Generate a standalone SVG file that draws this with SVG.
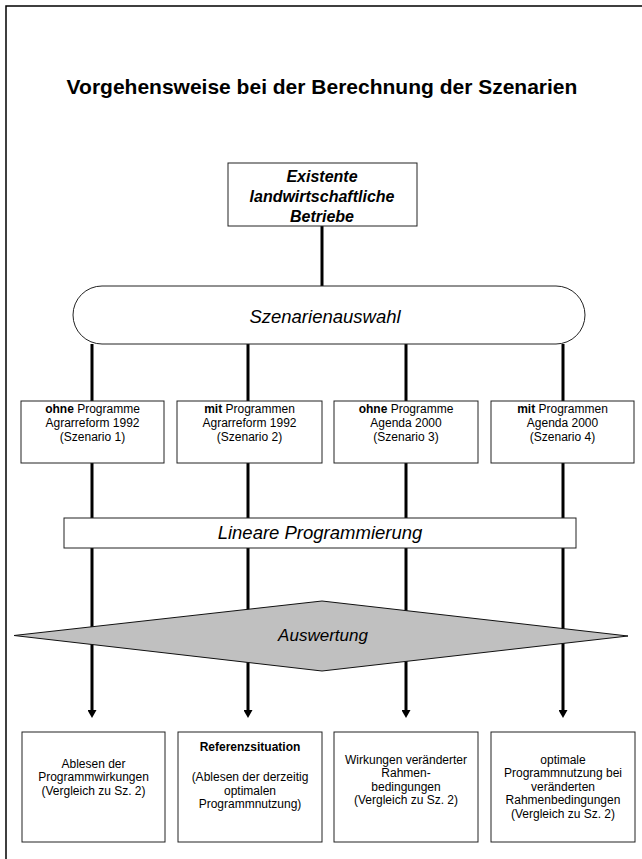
<svg xmlns="http://www.w3.org/2000/svg" width="642" height="859" viewBox="0 0 642 859">
<defs>
<style>
text{font-family:"Liberation Sans",Arial,sans-serif;fill:#000;text-anchor:middle}
.box{fill:#fff;stroke:#222;stroke-width:1}
.s{font-size:12px}
.b{font-weight:bold}
.big{font-size:18.5px;font-style:italic}
.conn{stroke:#000;stroke-width:3;fill:none}
</style>
<marker id="ah" viewBox="0 0 8 9" refX="2" refY="4.5" markerWidth="8" markerHeight="9" markerUnits="userSpaceOnUse" orient="auto">
<path d="M0,0 L8,4.5 L0,9 z" fill="#000"/>
</marker>
</defs>
<rect width="642" height="859" fill="#fff"/>
<path d="M6,859 V6 H642" fill="none" stroke="#000" stroke-width="1.5"/>
<text x="322" y="94" font-size="21" font-weight="bold">Vorgehensweise bei der Berechnung der Szenarien</text>

<g id="connectors">
<line class="conn" x1="322" y1="226" x2="322" y2="286"/>
<line class="conn" x1="92" y1="344" x2="92" y2="712" marker-end="url(#ah)"/>
<line class="conn" x1="248" y1="344" x2="248" y2="712" marker-end="url(#ah)"/>
<line class="conn" x1="406" y1="344" x2="406" y2="712" marker-end="url(#ah)"/>
<line class="conn" x1="563" y1="344" x2="563" y2="712" marker-end="url(#ah)"/>
</g>

<g id="betriebe">
<rect class="box" x="228" y="163" width="189" height="63"/>
<text font-size="16" font-weight="bold" font-style="italic"><tspan x="322" y="182">Existente</tspan><tspan x="322" y="202">landwirtschaftliche</tspan><tspan x="322" y="222">Betriebe</tspan></text>
</g>

<g id="szenarienauswahl">
<rect class="box" x="73" y="286" width="512" height="58" rx="29" ry="29"/>
<text class="big" x="325" y="323">Szenarienauswahl</text>
</g>

<g id="szenario1">
<rect class="box" x="21" y="401" width="143" height="62"/>
<text class="s"><tspan x="92.5" y="413"><tspan class="b">ohne</tspan> Programme</tspan><tspan x="92.5" y="427">Agrarreform 1992</tspan><tspan x="92.5" y="441">(Szenario 1)</tspan></text>
</g>
<g id="szenario2">
<rect class="box" x="177" y="401" width="145" height="62"/>
<text class="s"><tspan x="249.5" y="413"><tspan class="b">mit</tspan> Programmen</tspan><tspan x="249.5" y="427">Agrarreform 1992</tspan><tspan x="249.5" y="441">(Szenario 2)</tspan></text>
</g>
<g id="szenario3">
<rect class="box" x="334" y="401" width="144" height="62"/>
<text class="s"><tspan x="406" y="413"><tspan class="b">ohne</tspan> Programme</tspan><tspan x="406" y="427">Agenda 2000</tspan><tspan x="406" y="441">(Szenario 3)</tspan></text>
</g>
<g id="szenario4">
<rect class="box" x="491" y="401" width="143" height="62"/>
<text class="s"><tspan x="562.5" y="413"><tspan class="b">mit</tspan> Programmen</tspan><tspan x="562.5" y="427">Agenda 2000</tspan><tspan x="562.5" y="441">(Szenario 4)</tspan></text>
</g>

<g id="lp">
<rect class="box" x="64" y="518" width="512" height="30"/>
<text class="big" x="320" y="539">Lineare Programmierung</text>
</g>

<g id="auswertung">
<polygon points="14,635.5 322,601 628,636 322,671" fill="#c0c0c0" stroke="#111" stroke-width="1"/>
<text font-size="17" font-style="italic" x="323" y="641">Auswertung</text>
</g>

<g id="ergebnis1">
<rect class="box" x="22" y="732" width="143" height="110"/>
<text class="s"><tspan x="93.5" y="768">Ablesen der</tspan><tspan x="93.5" y="781">Programmwirkungen</tspan><tspan x="93.5" y="795">(Vergleich zu Sz. 2)</tspan></text>
</g>
<g id="ergebnis2">
<rect class="box" x="178" y="732" width="144" height="110"/>
<text class="s"><tspan class="b" x="250" y="751">Referenzsituation</tspan><tspan x="250" y="781">(Ablesen der derzeitig</tspan><tspan x="250" y="795">optimalen</tspan><tspan x="250" y="808">Programmnutzung)</tspan></text>
</g>
<g id="ergebnis3">
<rect class="box" x="334" y="732" width="144" height="110"/>
<text class="s"><tspan x="406" y="764">Wirkungen veränderter</tspan><tspan x="406" y="777">Rahmen-</tspan><tspan x="406" y="791">bedingungen</tspan><tspan x="406" y="804">(Vergleich zu Sz. 2)</tspan></text>
</g>
<g id="ergebnis4">
<rect class="box" x="491" y="732" width="144" height="110"/>
<text class="s"><tspan x="563" y="764">optimale</tspan><tspan x="563" y="777">Programmnutzung bei</tspan><tspan x="563" y="791">veränderten</tspan><tspan x="563" y="804">Rahmenbedingungen</tspan><tspan x="563" y="818">(Vergleich zu Sz. 2)</tspan></text>
</g>
</svg>
